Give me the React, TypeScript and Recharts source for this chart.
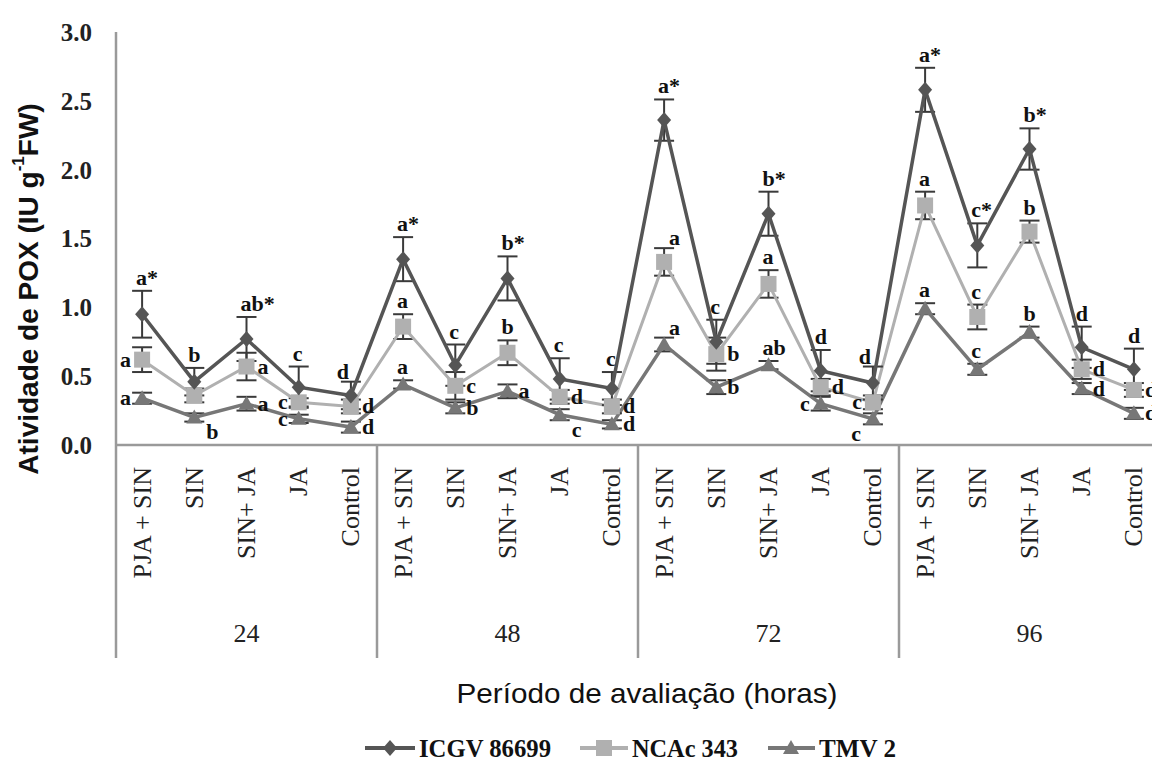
import React from 'react'
import { LineChart, Line, XAxis, YAxis, ErrorBar, LabelList } from 'recharts'

const periods = ['24', '48', '72', '96']
const treatments = ['PJA + SIN', 'SIN', 'SIN+ JA', 'JA', 'Control']
const yTicks = [0, 0.5, 1, 1.5, 2, 2.5, 3]

const icgv = [0.95, 0.46, 0.77, 0.42, 0.36, 1.35, 0.58, 1.21, 0.48, 0.41, 2.36, 0.75, 1.68, 0.54, 0.45, 2.58, 1.45, 2.15, 0.71, 0.55]
const icgvErr = [0.17, 0.1, 0.16, 0.15, 0.1, 0.16, 0.15, 0.16, 0.15, 0.12, 0.15, 0.16, 0.16, 0.15, 0.12, 0.16, 0.16, 0.15, 0.15, 0.15]
const icgvLetters = ['a*', 'b', 'ab*', 'c', 'd', 'a*', 'c', 'b*', 'c', 'c', 'a*', 'c', 'b*', 'd', 'd', 'a*', 'c*', 'b*', 'd', 'd']

const ncac = [0.62, 0.36, 0.57, 0.31, 0.28, 0.86, 0.43, 0.67, 0.35, 0.28, 1.33, 0.66, 1.17, 0.42, 0.31, 1.74, 0.93, 1.55, 0.55, 0.4]
const ncacErr = [0.09, 0.05, 0.1, 0.03, 0.05, 0.09, 0.1, 0.09, 0.05, 0.05, 0.1, 0.12, 0.1, 0.06, 0.05, 0.1, 0.09, 0.08, 0.07, 0.05]
const ncacLetters = ['a', '', 'a', 'c', 'd', 'a', 'c', 'b', 'd', 'd', 'a', 'b', 'a', 'd', 'c', 'a', 'c', 'b', 'd', 'd']

const tmv = [0.34, 0.2, 0.3, 0.19, 0.13, 0.44, 0.27, 0.39, 0.22, 0.15, 0.73, 0.42, 0.58, 0.3, 0.19, 0.99, 0.55, 0.82, 0.41, 0.23]
const tmvErr = [0.04, 0.03, 0.05, 0.03, 0.04, 0.03, 0.04, 0.05, 0.04, 0.03, 0.05, 0.05, 0.03, 0.05, 0.04, 0.04, 0.04, 0.04, 0.04, 0.04]
const tmvLetters = ['a', 'b', 'a', 'c', 'd', 'a', 'b', 'a', 'c', 'd', 'a', 'b', 'ab', 'c', 'c', 'a', 'c', 'b', 'd', 'd']

// where each letter sits relative to its point (styling only)
const icgvSide = ['t', 't', 't', 't', 'tl', 't', 't', 't', 't', 't', 't', 't', 't', 't', 'tl', 't', 't', 't', 't', 't']
const ncacSide = ['l', 't', 'r', 'l', 'r', 't', 'r', 't', 'r', 'r', 'tr', 'r', 't', 'r', 'l', 't', 't', 't', 'r', 'r']
const tmvSide = ['l', 'br', 'r', 'l', 'r', 't', 'r', 'r', 'br', 'r', 'tr', 'r', 't', 'l', 'bl', 't', 't', 't', 'r', 'r']

const data = icgv.map((v, i) => ({
  id: `${periods[Math.floor(i / 5)]}-${treatments[i % 5]}`,
  icgv: v,
  icgvErr: icgvErr[i],
  ncac: ncac[i],
  ncacErr: ncacErr[i],
  tmv: tmv[i],
  tmvErr: tmvErr[i],
}))

const SERIF = "'Liberation Serif', 'Times New Roman', serif"
const SANS = "'Liberation Sans', Arial, sans-serif"
const CHART_W = 1160
const Y_AXIS_W = 116
const PLOT_TOP = 32
const PLOT_H = 413
const BAND = (CHART_W - Y_AXIS_W) / data.length
const PX = PLOT_H / 3
const AXIS = '#9a9a9a'
const C_ICGV = '#555555'
const C_NCAC = '#b0b0b0'
const C_TMV = '#777777'

function CatTick(props: any) {
  const { x, y, index } = props
  const left = x - BAND / 2
  return (
    <g>
      <text
        x={x}
        y={y + 22}
        transform={`rotate(-90, ${x}, ${y + 22})`}
        textAnchor="end"
        dominantBaseline="central"
        fontFamily={SERIF}
        fontSize={26}
        fill="#222"
      >
        {treatments[index % 5]}
      </text>
      {index % 5 === 0 && <line x1={left} x2={left} y1={y} y2={y + 213} stroke={AXIS} strokeWidth={2.5} />}
      {index % 5 === 2 && (
        <text x={x} y={y + 188} textAnchor="middle" dominantBaseline="central" fontFamily={SERIF} fontSize={26} fill="#222">
          {periods[Math.floor(index / 5)]}
        </text>
      )}
    </g>
  )
}

function YTitle() {
  return (
    <text
      x={28}
      y={289}
      transform="rotate(-90, 28, 289)"
      textAnchor="middle"
      dominantBaseline="central"
      fontFamily={SANS}
      fontWeight="bold"
      fontSize={28}
      fill="#111"
    >
      Atividade de POX (IU g<tspan dy={-10} fontSize={17}>-1</tspan>
      <tspan dy={10}>FW)</tspan>
    </text>
  )
}

function XTitle() {
  return (
    <text
      x={647}
      y={693}
      textAnchor="middle"
      dominantBaseline="central"
      fontFamily={SANS}
      fontSize={28}
      textLength={381}
      lengthAdjust="spacingAndGlyphs"
      fill="#111"
    >
      Período de avaliação (horas)
    </text>
  )
}

const makeLabel = (letters: string[], sides: string[], errs: number[]) => (props: any) => {
  const { x, y, index } = props
  const t = letters[index]
  if (!t) return null
  const top = y - errs[index] * PX
  let tx = x
  let ty = y
  let anchor = 'start'
  switch (sides[index]) {
    case 't':
      tx = x - 6
      ty = top - 6
      break
    case 'tr':
      tx = x + 5
      ty = top - 3
      break
    case 'tl':
      tx = x - 2
      ty = top - 3
      anchor = 'end'
      break
    case 'r':
      tx = x + 11
      ty = y + 7
      break
    case 'l':
      tx = x - 11
      ty = y + 7
      anchor = 'end'
      break
    case 'br':
      tx = x + 12
      ty = y + 22
      break
    case 'bl':
      tx = x - 12
      ty = y + 22
      anchor = 'end'
      break
  }
  return (
    <text key={`l-${index}`} x={tx} y={ty} textAnchor={anchor} fontFamily={SERIF} fontWeight="bold" fontSize={22} fill="#111">
      {t}
    </text>
  )
}

const diamond = (props: any) => {
  const { cx, cy, index } = props
  return <polygon key={`dm-${index}`} points={`${cx},${cy - 8} ${cx + 7},${cy} ${cx},${cy + 8} ${cx - 7},${cy}`} fill={C_ICGV} />
}
const square = (props: any) => {
  const { cx, cy, index } = props
  return <rect key={`sq-${index}`} x={cx - 8} y={cy - 8} width={16} height={16} fill={C_NCAC} />
}
const triangle = (props: any) => {
  const { cx, cy, index } = props
  return <polygon key={`tr-${index}`} points={`${cx},${cy - 8} ${cx + 8},${cy + 6} ${cx - 8},${cy + 6}`} fill={C_TMV} />
}

function Legend() {
  const y = 748
  return (
    <svg width={1152} height={760} style={{ position: 'absolute', left: 0, top: 0, pointerEvents: 'none' }}>
      <line x1={365} x2={415} y1={y} y2={y} stroke={C_ICGV} strokeWidth={4} />
      <polygon points={`390,${y - 8} 397,${y} 390,${y + 8} 383,${y}`} fill={C_ICGV} />
      <text x={419} y={y} dominantBaseline="central" fontFamily={SERIF} fontWeight="bold" fontSize={25} textLength={132} lengthAdjust="spacingAndGlyphs" fill="#111">
        ICGV 86699
      </text>
      <line x1={580} x2={628} y1={y} y2={y} stroke={C_NCAC} strokeWidth={4} />
      <rect x={596} y={y - 8} width={16} height={16} fill={C_NCAC} />
      <text x={632} y={y} dominantBaseline="central" fontFamily={SERIF} fontWeight="bold" fontSize={25} textLength={106} lengthAdjust="spacingAndGlyphs" fill="#111">
        NCAc 343
      </text>
      <line x1={768} x2={815} y1={y} y2={y} stroke={C_TMV} strokeWidth={4} />
      <polygon points={`791,${y - 8} 799,${y + 6} 783,${y + 6}`} fill={C_TMV} />
      <text x={819} y={y} dominantBaseline="central" fontFamily={SERIF} fontWeight="bold" fontSize={25} textLength={77} lengthAdjust="spacingAndGlyphs" fill="#111">
        TMV 2
      </text>
    </svg>
  )
}

export default function App() {
  return (
    <div style={{ position: 'absolute', left: 0, top: 0, width: 1152, height: 760, overflow: 'hidden', background: '#fff' }}>
      <LineChart width={CHART_W} height={760} data={data} margin={{ top: PLOT_TOP, right: 0, bottom: 0, left: 0 }}>
        <XAxis
          dataKey="id"
          type="category"
          scale="band"
          interval={0}
          height={760 - PLOT_TOP - PLOT_H}
          tick={<CatTick />}
          tickLine={false}
          tickSize={0}
          tickMargin={0}
          axisLine={{ stroke: AXIS, strokeWidth: 2.5 }}
          label={<XTitle />}
        />
        <YAxis
          domain={[0, 3]}
          ticks={yTicks}
          width={Y_AXIS_W}
          tickFormatter={(v: number) => v.toFixed(1)}
          tickLine={false}
          tickSize={0}
          tickMargin={24}
          axisLine={{ stroke: AXIS, strokeWidth: 2.5 }}
          tick={{ fontFamily: SERIF, fontWeight: 'bold', fontSize: 25, fill: '#222' }}
          label={<YTitle />}
        />
        <Line dataKey="tmv" stroke={C_TMV} strokeWidth={3.5} dot={triangle} isAnimationActive={false}>
          <ErrorBar dataKey="tmvErr" width={10} stroke="#3a3a3a" strokeWidth={2} direction="y" />
          <LabelList dataKey="tmv" content={makeLabel(tmvLetters, tmvSide, tmvErr)} />
        </Line>
        <Line dataKey="ncac" stroke={C_NCAC} strokeWidth={3} dot={square} isAnimationActive={false}>
          <ErrorBar dataKey="ncacErr" width={10} stroke="#3a3a3a" strokeWidth={2} direction="y" />
          <LabelList dataKey="ncac" content={makeLabel(ncacLetters, ncacSide, ncacErr)} />
        </Line>
        <Line dataKey="icgv" stroke={C_ICGV} strokeWidth={3.5} dot={diamond} isAnimationActive={false}>
          <ErrorBar dataKey="icgvErr" width={10} stroke="#3a3a3a" strokeWidth={2} direction="y" />
          <LabelList dataKey="icgv" content={makeLabel(icgvLetters, icgvSide, icgvErr)} />
        </Line>
      </LineChart>
      <Legend />
    </div>
  )
}
